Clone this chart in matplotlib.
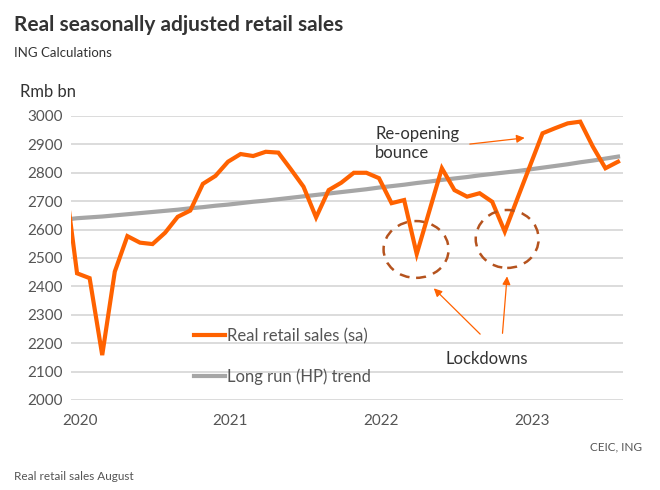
import matplotlib.pyplot as plt
from matplotlib.patches import Ellipse

plt.rcParams['font.family'] = ['Lato', 'DejaVu Sans']

# month index: -1 = Dec 2019, 0 = Jan 2020 ... 43 = Aug 2023
months = list(range(-1, 44))
retail = [2790, 2446, 2429, 2158, 2452, 2577, 2554, 2549, 2589, 2645, 2667,
          2761, 2789, 2839, 2866, 2859, 2874, 2871, 2812, 2751, 2643,
          2739, 2765, 2800, 2800, 2781, 2693, 2704, 2514, 2665, 2816,
          2739, 2716, 2728, 2698, 2593, 2709, 2824, 2939, 2957, 2974,
          2980, 2892, 2816, 2839]
trend = [2635, 2640, 2643, 2646, 2650, 2654, 2658, 2662, 2666, 2670, 2675,
         2679, 2684, 2688, 2693, 2698, 2702, 2707, 2712, 2717, 2722,
         2727, 2732, 2737, 2742, 2748, 2753, 2758, 2764, 2769, 2775,
         2780, 2785, 2791, 2796, 2801, 2806, 2812, 2818, 2824, 2830,
         2837, 2843, 2850, 2857]
year_ticks = [0, 12, 24, 36]
year_labels = ['2020', '2021', '2022', '2023']

orange = '#FF6200'
grey = '#A6A6A6'
brown = '#B5531E'
txt = '#333333'

fig = plt.figure(figsize=(6.6, 4.9), dpi=100)
ax = fig.add_axes([0.1076, 0.1837, 0.8364, 0.5796])

ax.plot(months, retail, color=orange, lw=3, label='Real retail sales (sa)', zorder=3, solid_joinstyle='miter')
ax.plot(months, trend, color=grey, lw=3, label='Long run (HP) trend', zorder=2)

ax.set_xlim(-0.48, 43.4)
ax.set_ylim(2000, 3000)
ax.set_yticks(range(2000, 3001, 100))
ax.set_xticks([t + 0.2 for t in year_ticks])
ax.set_xticklabels(year_labels)
ax.grid(axis='y', color='#D9D9D9', lw=1.3)
ax.set_axisbelow(True)
for s in ax.spines.values():
    s.set_visible(False)
ax.tick_params(length=0, labelsize=11, colors='#555555', pad=6)
ax.tick_params(axis='x', pad=10)

# lockdown circles
for cx, cy, w, h in [(26.95, 2530, 5.17, 200), (34.19, 2567, 5.0, 204)]:
    ax.add_patch(Ellipse((cx, cy), w, h, fill=False, ec=brown, lw=1.8,
                         ls=(0, (4, 3)), zorder=4))

ax.text(23.7, 2903, 'Re-opening\nbounce', fontsize=12, color=txt, va='center',
        linespacing=1.3)
ax.annotate('', xy=(35.8, 2924), xytext=(31.0, 2900),
            arrowprops=dict(arrowstyle='-|>', color=orange, lw=0.9,
                            mutation_scale=12))
ax.text(32.6, 2145, 'Lockdowns', fontsize=12, color=txt, ha='center', va='center')
ax.annotate('', xy=(28.2, 2400), xytext=(32.2, 2225),
            arrowprops=dict(arrowstyle='-|>', color=orange, lw=0.9,
                            mutation_scale=12))
ax.annotate('', xy=(34.2, 2445), xytext=(33.8, 2225),
            arrowprops=dict(arrowstyle='-|>', color=orange, lw=0.9,
                            mutation_scale=12))

leg = ax.legend(loc='lower left', bbox_to_anchor=(0.195, 0.0), frameon=False,
                fontsize=12, handlelength=1.9, handletextpad=0.1,
                labelspacing=1.45)
for t in leg.get_texts():
    t.set_color('#555555')

fig.text(0.021, 0.948, 'Real seasonally adjusted retail sales', fontsize=15,
         fontweight='bold', color=txt, va='center')
fig.text(0.021, 0.891, 'ING Calculations', fontsize=9.5, color=txt, va='center')
fig.text(0.03, 0.812, 'Rmb bn', fontsize=12, color=txt, va='center')
fig.text(0.972, 0.088, 'CEIC, ING', fontsize=8.5, color='#555555', ha='right', va='center')
fig.text(0.021, 0.028, 'Real retail sales August', fontsize=8.5, color='#555555', va='center')

fig.savefig('out.png', dpi=100)
